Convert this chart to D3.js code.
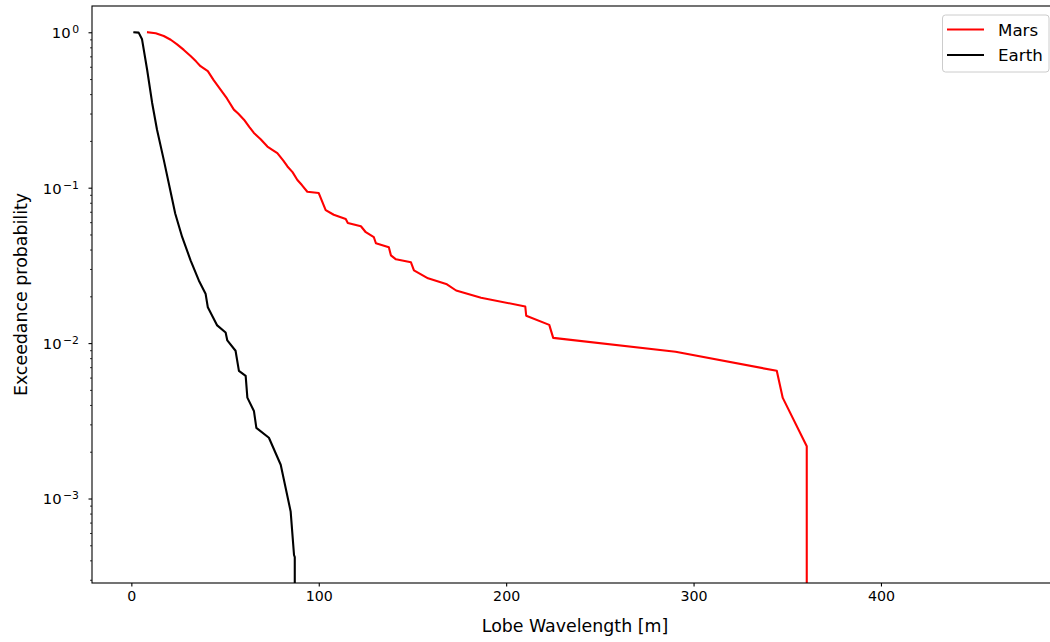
<!DOCTYPE html>
<html>
<head>
<meta charset="utf-8">
<script src="https://cdn.jsdelivr.net/npm/d3@7"></script>
<style>
  html, body { margin: 0; padding: 0; background: #fff; }
  svg { display: block; font-family: "DejaVu Sans", sans-serif; }
</style>
</head>
<body>
<svg id="chart" width="1050" height="642"></svg>
<script>
// ---- data ----
const marsX = [8.9, 13.0, 17.3, 21.0, 24.4, 28.0, 31.6, 34.5, 36.9, 40.8, 44.0, 47.6, 51.0, 54.7, 57.0, 60.1, 63.0, 65.4, 69.0, 72.6, 75.0, 77.9, 81.0, 83.3, 86.0, 88.6, 91.0, 93.9, 100.0, 103.7, 108.0, 114.4, 115.5, 122.5, 125.1, 129.4, 130.5, 137.4, 138.5, 141.2, 149.2, 150.8, 158.3, 168.4, 173.3, 186.6, 210.2, 210.7, 223.0, 225.1, 290.4, 344.4, 347.6, 360.4, 360.4];
const marsP = [1.0, 0.985, 0.946, 0.895, 0.836, 0.77, 0.703, 0.65, 0.605, 0.562, 0.49, 0.428, 0.375, 0.318, 0.30, 0.274, 0.245, 0.225, 0.205, 0.184, 0.176, 0.167, 0.150, 0.137, 0.126, 0.112, 0.104, 0.0942, 0.0924, 0.0718, 0.0670, 0.0628, 0.0592, 0.0565, 0.0517, 0.048, 0.0439, 0.0414, 0.0367, 0.0346, 0.0331, 0.0294, 0.0261, 0.0239, 0.0218, 0.0196, 0.0172, 0.0150, 0.0131, 0.0108, 0.00879, 0.00663, 0.00444, 0.00217, 0];
const earthX = [1.6, 3.9, 5.7, 8.4, 11.1, 13.7, 17.3, 21.7, 23.4, 27.1, 31.6, 36.0, 39.6, 40.8, 45.8, 50.3, 51.2, 55.6, 57.4, 61.0, 61.9, 65.4, 66.7, 73.4, 79.7, 85.0, 86.8, 87.2, 87.2];
const earthP = [1.0, 0.995, 0.901, 0.576, 0.351, 0.236, 0.151, 0.0853, 0.0683, 0.0482, 0.0341, 0.0253, 0.0208, 0.0170, 0.0130, 0.0117, 0.0104, 0.00893, 0.00663, 0.00616, 0.00446, 0.00366, 0.00285, 0.00246, 0.00165, 0.000826, 0.000433, 0.00042, 0];
const xTicks = [0, 100, 200, 300, 400];
const yTickExps = [0, -1, -2, -3];
const seriesNames = ["Mars", "Earth"];
const seriesColors = ["#ff0000", "#000000"];
const xLabel = "Lobe Wavelength [m]";
const yLabel = "Exceedance probability";

// ---- layout ----
const W = 1050, H = 642;
const L = 92, T = 6, R = 1056, B = 583;

const svg = d3.select("#chart");

const x = d3.scaleLinear().domain([-21.0, 493.4]).range([L, R]);
const y = d3.scaleLog().domain([2.86e-4, 1.476]).range([B, T]);

const defs = svg.append("defs");
defs.append("clipPath").attr("id", "plotclip")
  .append("rect").attr("x", L).attr("y", T).attr("width", R - L).attr("height", B - T);

// lines
const series = [
  { name: seriesNames[0], xs: marsX, ps: marsP, color: seriesColors[0] },
  { name: seriesNames[1], xs: earthX, ps: earthP, color: seriesColors[1] }
];
const line = d3.line()
  .x(d => x(d[0]))
  .y(d => y(Math.max(d[1], 1e-6)));

const plot = svg.append("g").attr("clip-path", "url(#plotclip)");
series.forEach(s => {
  const pts = s.xs.map((v, i) => [v, s.ps[i]]);
  plot.append("path")
    .datum(pts)
    .attr("d", line)
    .attr("fill", "none")
    .attr("stroke", s.color)
    .attr("stroke-width", 2.1)
    .attr("stroke-linejoin", "round")
    .attr("stroke-linecap", "square");
});

// x axis
const xAxis = d3.axisBottom(x).tickValues(xTicks).tickSize(3.5).tickPadding(4.5).tickFormat(d3.format("d"));
const gx = svg.append("g").attr("transform", `translate(0,${B})`).call(xAxis);
gx.select(".domain").remove();
gx.selectAll(".tick line").attr("stroke", "#000").attr("stroke-width", 1.1);
gx.selectAll(".tick text").attr("fill", "#000").attr("font-size", 14.2)
  .attr("font-family", "DejaVu Sans, sans-serif");

// y axis major
const yMajor = yTickExps.map(e => Math.pow(10, e));
const yAxis = d3.axisLeft(y).tickValues(yMajor).tickSize(3.5).tickPadding(3.5).tickFormat("");
const gy = svg.append("g").attr("transform", `translate(${L},0)`).call(yAxis);
gy.select(".domain").remove();
gy.selectAll(".tick line").attr("stroke", "#000").attr("stroke-width", 1.1);
gy.selectAll(".tick").each(function(d) {
  const e = Math.round(Math.log10(d));
  const t = d3.select(this).append("text")
    .attr("x", -13).attr("y", 0).attr("dy", "0.36em")
    .attr("text-anchor", "end").attr("fill", "#000")
    .attr("font-size", 14.8).attr("font-family", "DejaVu Sans, sans-serif");
  t.append("tspan").text("10");
  t.append("tspan").attr("dx", 1.5).attr("dy", "-0.45em").attr("font-size", 10.8)
    .text(e < 0 ? "\u2212" + Math.abs(e) : String(e));
});

// y axis minor
const yMinor = [];
for (let e = -4; e <= 0; e++) {
  for (let m = 2; m <= 9; m++) {
    const v = m * Math.pow(10, e);
    if (v >= y.domain()[0] && v <= y.domain()[1]) yMinor.push(v);
  }
}
const yAxisMinor = d3.axisLeft(y).tickValues(yMinor).tickSize(2).tickFormat("");
const gym = svg.append("g").attr("transform", `translate(${L},0)`).call(yAxisMinor);
gym.select(".domain").remove();
gym.selectAll(".tick line").attr("stroke", "#000").attr("stroke-width", 0.8);

// frame
svg.append("rect")
  .attr("x", L).attr("y", T).attr("width", R - L).attr("height", B - T)
  .attr("fill", "none").attr("stroke", "#000").attr("stroke-width", 1.1);

// axis labels
svg.append("text")
  .attr("x", 575).attr("y", 632)
  .attr("text-anchor", "middle").attr("font-size", 17.4).attr("fill", "#000")
  .text(xLabel);
svg.append("text")
  .attr("transform", `translate(27,${(T + B) / 2}) rotate(-90)`)
  .attr("text-anchor", "middle").attr("font-size", 17.4).attr("fill", "#000")
  .text(yLabel);

// legend
const lg = svg.append("g");
lg.append("rect")
  .attr("x", 942.5).attr("y", 15).attr("width", 106.5).attr("height", 57)
  .attr("rx", 3).attr("fill", "#fff").attr("fill-opacity", 0.8)
  .attr("stroke", "#cccccc").attr("stroke-width", 1);
series.forEach((s, i) => {
  const yy = 29.5 + i * 25.5;
  lg.append("line").attr("x1", 947).attr("x2", 984).attr("y1", yy).attr("y2", yy)
    .attr("stroke", s.color).attr("stroke-width", 2.1);
  lg.append("text").attr("x", 998).attr("y", yy).attr("dy", "0.36em")
    .attr("font-size", 16.7).attr("fill", "#000").text(s.name);
});
</script>
</body>
</html>
